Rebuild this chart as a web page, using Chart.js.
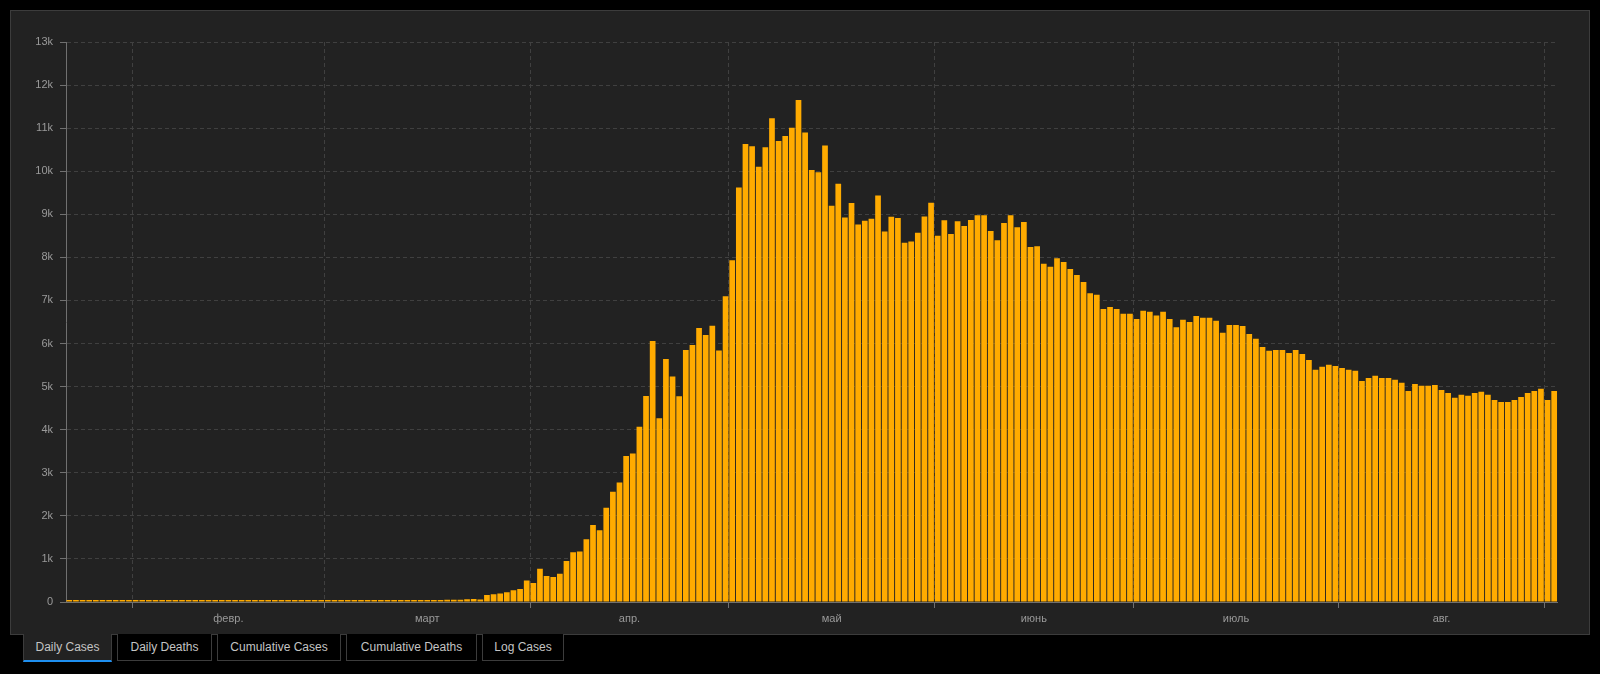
<!DOCTYPE html>
<html>
<head>
<meta charset="utf-8">
<script src="https://cdn.jsdelivr.net/npm/chart.js@4.4.1/dist/chart.umd.min.js"></script>
<style>
  html, body { margin: 0; padding: 0; background: #000; width: 1600px; height: 674px; overflow: hidden; }
  body { font-family: "Liberation Sans", Arial, sans-serif; }
  #panel { position: absolute; left: 10px; top: 10px; width: 1578px; height: 623px; background: #222; border: 1px solid #3c3c3c; }
  #casesChart { position: absolute; left: 0; top: 0; }
  .tab { position: absolute; top: 634px; height: 27px; box-sizing: border-box; background: #000;
         border: 1px solid #3c3c3c; border-top: none; color: #c4c4c4; font-size: 12px; line-height: 26px; text-align: center; }
  .tab.active { background: #222; height: 28px; border-bottom: 2px solid #1e8ff0; line-height: 26px; }
</style>
</head>
<body>
<div id="panel"></div>
<div class="tab active" style="left:23px;width:89px">Daily Cases</div>
<div class="tab" style="left:117px;width:95px">Daily Deaths</div>
<div class="tab" style="left:217px;width:124px">Cumulative Cases</div>
<div class="tab" style="left:346px;width:131px">Cumulative Deaths</div>
<div class="tab" style="left:482px;width:82px">Log Cases</div>
<canvas id="casesChart" width="1600" height="674"></canvas>
<script>
// daily new cases, one array per month (first day is 22 Jan 2020)
const casesJan = [0, 0, 0, 0, 0, 0, 0, 0, 0, 0];
const casesFeb = [0, 0, 0, 0, 0, 0, 0, 0, 0, 0, 0, 0, 0, 0, 0, 0, 0, 0, 0, 0, 0, 0, 0, 0, 0, 0, 0, 0, 0];
const casesMar = [0, 0, 0, 0, 0, 0, 0, 0, 0, 0, 0, 0, 25, 25, 8, 27, 25, 33, 52, 54,
                  53, 65, 71, 57, 163, 182, 196, 228, 270, 302, 501];
const casesApr = [440, 771, 601, 582, 658, 954, 1154, 1175, 1459, 1786, 1667, 2186, 2558, 2774, 3388,
                  3448, 4070, 4785, 6060, 4268, 5642, 5236, 4774, 5849, 5966, 6361, 6198, 6411, 5841, 7099];
const casesMay = [7933, 9623, 10633, 10581, 10102, 10559, 11231, 10699, 10817, 11012, 11656, 10899, 10028, 9974, 10598,
                  9200, 9709, 8926, 9263, 8764, 8849, 8894, 9434, 8599, 8946, 8915, 8338, 8371, 8572, 8952, 9268];
const casesJun = [8500, 8860, 8540, 8840, 8730, 8870, 8980, 8980, 8610, 8400, 8800, 8980, 8700, 8820, 8240,
                  8260, 7850, 7780, 7980, 7890, 7730, 7590, 7430, 7170, 7130, 6800, 6850, 6800, 6690, 6690];
const casesJul = [6570, 6760, 6740, 6650, 6740, 6570, 6380, 6550, 6500, 6640, 6600, 6600, 6530, 6250, 6430,
                  6430, 6410, 6220, 6110, 5920, 5830, 5850, 5850, 5780, 5850, 5760, 5620, 5390, 5460, 5510, 5480];
const casesAug = [5430, 5390, 5370, 5130, 5200, 5250, 5200, 5200, 5160, 5090, 4900, 5060, 5020, 5020, 5040,
                  4920, 4850, 4740, 4810, 4790, 4850, 4880, 4810, 4690, 4640, 4640, 4690, 4760, 4850, 4900, 4950];
const casesSep = [4690, 4900];

const monthTickLabels = ['февр.', 'март', 'апр.', 'май', 'июнь', 'июль', 'авг.'];

const dailyCases = [].concat(casesJan, casesFeb, casesMar, casesApr, casesMay, casesJun, casesJul, casesAug, casesSep);
const firstDay = Date.UTC(2020, 0, 22);
const dayLabels = dailyCases.map((v, i) => new Date(firstDay + i * 864e5).toISOString().slice(0, 10));

// index of every 1st of the month -> grid lines; month middles -> labels
const monthStarts = [];
dayLabels.forEach((d, i) => { if (d.endsWith('-01')) monthStarts.push(i); });
const monthCenters = monthTickLabels.map((m, k) => (monthStarts[k] + monthStarts[k + 1]) / 2 - 0.5);

const gridColor = '#404040';
const axisColor = '#707070';
const labelColor = '#9a9a9a';
const tickFont = { family: '"Liberation Sans", Arial, sans-serif', size: 11 };

const casesChart = new Chart(document.getElementById('casesChart'), {
  type: 'bar',
  data: {
    labels: dayLabels,
    datasets: [{
      data: dailyCases,
      backgroundColor: '#ffab00',
      barPercentage: 0.86,
      categoryPercentage: 1,
      minBarLength: 2,
      xAxisID: 'x',
      yAxisID: 'y'
    }]
  },
  options: {
    responsive: false,
    animation: false,
    layout: { padding: { top: 42, right: 42.5, bottom: 46, left: 0 } },
    plugins: { legend: { display: false }, tooltip: { enabled: false } },
    scales: {
      x: {
        type: 'category',
        position: 'bottom',
        weight: 0,
        offset: true,
        grid: {
          offset: true,
          tickLength: 6,
          color: c => monthStarts.includes(c.index) ? gridColor : 'transparent',
          tickColor: c => monthStarts.includes(c.index) ? axisColor : 'transparent'
        },
        border: { color: axisColor, dash: [4, 3] },
        ticks: { display: false },
        afterFit: s => { s.height = 6; }
      },
      xm: {
        type: 'linear',
        position: 'bottom',
        weight: 1,
        offset: false,
        min: -0.5,
        max: dailyCases.length - 0.5,
        grid: { display: false, drawTicks: false, offset: false },
        border: { display: false },
        afterBuildTicks: s => { s.ticks = monthCenters.map(v => ({ value: v })); },
        ticks: {
          autoSkip: false,
          maxRotation: 0,
          padding: 4,
          color: labelColor,
          font: tickFont,
          callback: (v, i) => monthTickLabels[i]
        },
        afterFit: s => { s.height = 20; }
      },
      y: {
        min: 0,
        max: 13000,
        grid: { color: gridColor, tickColor: axisColor, tickLength: 6 },
        border: { color: axisColor, dash: [4, 3] },
        ticks: {
          stepSize: 1000,
          padding: 7,
          color: labelColor,
          font: tickFont,
          callback: v => v === 0 ? '0' : (v / 1000) + 'k'
        },
        afterFit: s => { s.width = 66; }
      }
    }
  }
});
</script>
</body>
</html>
